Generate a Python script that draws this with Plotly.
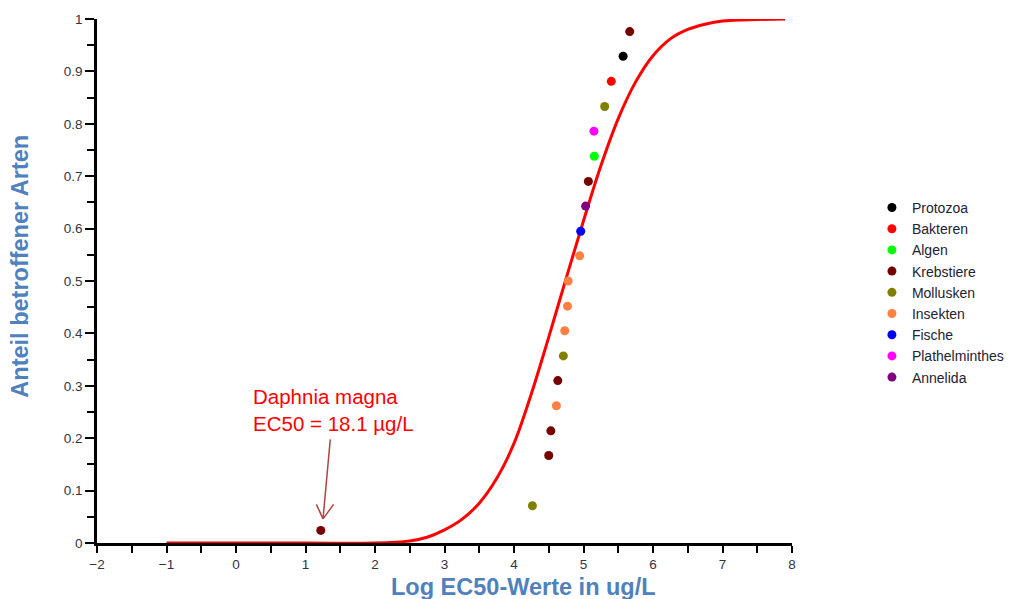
import plotly.graph_objects as go

# ---- data ----
groups = ["Protozoa", "Bakteren", "Algen", "Krebstiere", "Mollusken",
          "Insekten", "Fische", "Plathelminthes", "Annelida"]
colors = ["#000000", "#ff0000", "#00ff00", "#760000", "#808000",
          "#ff8040", "#0000ff", "#ff00ff", "#800080"]

protozoa_x = [5.57];  protozoa_y = [0.929]
bakteren_x = [5.40];  bakteren_y = [0.881]
algen_x = [5.155];    algen_y = [0.738]
krebs_x = [1.22, 4.50, 4.53, 4.63, 5.07, 5.665]
krebs_y = [0.024, 0.167, 0.214, 0.310, 0.690, 0.976]
moll_x = [4.265, 4.71, 5.305]
moll_y = [0.071, 0.357, 0.833]
insekt_x = [4.61, 4.73, 4.77, 4.78, 4.945]
insekt_y = [0.262, 0.405, 0.452, 0.500, 0.548]
fische_x = [4.96];    fische_y = [0.595]
plath_x = [5.15];     plath_y = [0.786]
annel_x = [5.03];     annel_y = [0.643]

group_x = [protozoa_x, bakteren_x, algen_x, krebs_x, moll_x,
           insekt_x, fische_x, plath_x, annel_x]
group_y = [protozoa_y, bakteren_y, algen_y, krebs_y, moll_y,
           insekt_y, fische_y, plath_y, annel_y]

# fitted species-sensitivity curve
curve_x = [-1, 1.0, 2.0, 2.5, 2.75, 3.0, 3.25, 3.5, 3.75, 4.0, 4.25, 4.5, 4.75,
           5.0, 5.25, 5.5, 5.75, 6.0, 6.25, 6.5, 6.75, 7.0, 7.5, 7.9]
curve_y = [0, 0, 0.0, 0.004, 0.011, 0.025, 0.045, 0.076, 0.123, 0.19, 0.285,
           0.393, 0.505, 0.615, 0.72, 0.81, 0.88, 0.93, 0.962, 0.98, 0.99,
           0.996, 0.999, 1.0]

x_ticks = [-2, -1, 0, 1, 2, 3, 4, 5, 6, 7, 8]
y_ticks = [0, 0.1, 0.2, 0.3, 0.4, 0.5, 0.6, 0.7, 0.8, 0.9, 1]

x_title = "<b>Log EC50-Werte in ug/L</b>"
y_title = "<b>Anteil betroffener Arten</b>"

# annotation (Daphnia magna point)
anno_text = "Daphnia magna<br>EC50 = 18.1 µg/L"
arrow_tip_x, arrow_tip_y = 1.252, 0.046

FONT = "Liberation Sans, Arial, sans-serif"
TITLE_COLOR = "#4F81BD"
ARROW_COLOR = "#b04545"

fig = go.Figure()
fig.add_trace(go.Scatter(x=curve_x, y=curve_y, mode="lines",
                         line=dict(color="#ff0000", width=3, shape="spline", smoothing=1.0),
                         showlegend=False, hoverinfo="skip", cliponaxis=False))

for name, col, xs, ys in zip(groups, colors, group_x, group_y):
    fig.add_trace(go.Scatter(x=xs, y=ys, mode="markers", name=name,
                             marker=dict(color=col, size=9),
                             cliponaxis=False))

# arrow shaft and open arrow head (pixel offsets from the tip)
for ax_off, ay_off in [(7.4, -81), (-7.3, -16), (11.7, -16)]:
    fig.add_annotation(x=arrow_tip_x, y=arrow_tip_y, xref="x", yref="y",
                       ax=ax_off, ay=ay_off, text="", showarrow=True,
                       arrowhead=0, arrowwidth=1.5, arrowcolor=ARROW_COLOR)
# annotation text
fig.add_annotation(x=0.22, y=0.305, xref="x", yref="y", text=anno_text,
                   showarrow=False, xanchor="left", yanchor="top", align="left",
                   font=dict(family=FONT, size=20.5, color="#ff0000"))

# axis titles (offset like in the reference)
fig.add_annotation(x=0.613, y=-0.084, xref="paper", yref="paper", text=x_title,
                   showarrow=False, xanchor="center", yanchor="middle",
                   font=dict(family=FONT, size=23.5, color=TITLE_COLOR))
fig.add_annotation(x=-0.111, y=0.529, xref="paper", yref="paper", text=y_title,
                   showarrow=False, xanchor="center", yanchor="middle", textangle=-90,
                   font=dict(family=FONT, size=23.5, color=TITLE_COLOR))

fig.update_xaxes(range=[-2, 8], tickvals=x_ticks, showline=True, linecolor="black",
                 linewidth=2.5, ticks="outside", ticklen=7, tickwidth=2, tickcolor="black",
                 minor=dict(dtick=0.5, ticks="outside", ticklen=7, tickwidth=2, tickcolor="black"),
                 showgrid=False, zeroline=False,
                 tickfont=dict(family=FONT, size=13.5, color="#333344"))
fig.update_yaxes(range=[0, 1], tickvals=y_ticks, showline=True, linecolor="black",
                 linewidth=2.5, ticks="outside", ticklen=9, tickwidth=2, tickcolor="black",
                 minor=dict(dtick=0.05, ticks="outside", ticklen=7, tickwidth=2, tickcolor="black"),
                 showgrid=False, zeroline=False,
                 tickfont=dict(family=FONT, size=13.5, color="#333344"))

fig.update_layout(width=1007, height=591, plot_bgcolor="white", paper_bgcolor="white",
                  margin=dict(l=89, r=223, t=11, b=56, autoexpand=False),
                  legend=dict(x=1.115, y=0.67, xanchor="left", yanchor="top",
                              font=dict(family=FONT, size=14, color="#222233"),
                              tracegroupgap=0, itemwidth=30, bgcolor="rgba(0,0,0,0)"),
                  font=dict(family=FONT))

fig.write_html("out.html")
